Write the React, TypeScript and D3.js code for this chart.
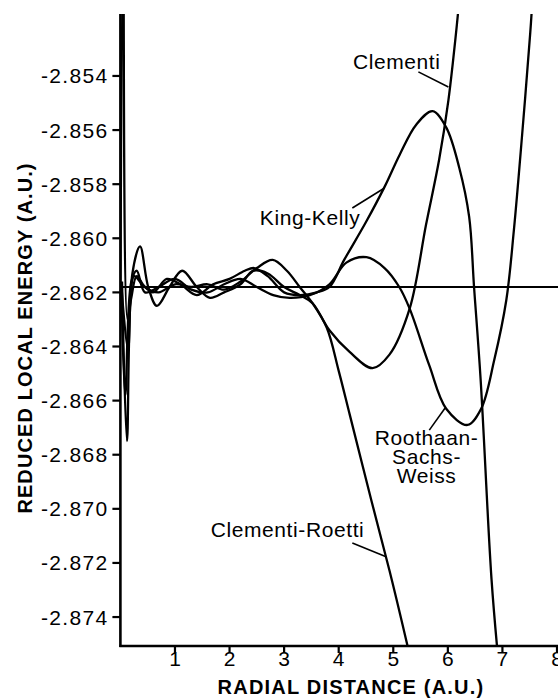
import React from "react";
import * as d3 from "d3";

// ---- data (radial distance r in a.u., reduced local energy E in a.u.) ----
const xTicks = [1, 2, 3, 4, 5, 6, 7, 8];
const yTicks = [-2.854, -2.856, -2.858, -2.86, -2.862, -2.864, -2.866, -2.868, -2.87, -2.872, -2.874];
const referenceEnergy = -2.8618;

const clementi: [number, number][] = [
  [0.03, -2.8616], [0.12, -2.8675], [0.22, -2.8613], [0.36, -2.8603], [0.51, -2.8618], [0.67, -2.8625],
  [0.9, -2.8618], [1.13, -2.8612], [1.4, -2.8618], [1.64, -2.8622], [1.9, -2.862], [2.2, -2.8617],
  [2.43, -2.8612], [2.7, -2.8613], [3.0, -2.8618], [3.285, -2.8621], [3.52, -2.8624], [3.83, -2.8634],
  [4.2, -2.8642], [4.62, -2.8648], [4.93, -2.8643], [5.3, -2.8626], [5.6, -2.8595], [5.84, -2.8571],
  [6.01, -2.8549], [6.14, -2.8526], [6.2, -2.8514],
];

const clementiRoetti: [number, number][] = [
  [0.0, -2.8622], [0.05, -2.849], [0.13, -2.863], [0.2, -2.8622], [0.3, -2.8614], [0.45, -2.8618],
  [0.7, -2.862], [1.0, -2.8617], [1.3, -2.8618], [1.6, -2.8617], [1.9, -2.8619], [2.2, -2.8616],
  [2.5, -2.8611], [2.79, -2.8608], [3.05, -2.8612], [3.285, -2.8618], [3.52, -2.8624], [3.78, -2.8633],
  [4.0, -2.8649], [4.2, -2.8665], [4.6, -2.8697], [4.97, -2.8726], [5.3, -2.8754],
];

const kingKelly: [number, number][] = [
  [0.02, -2.8618], [0.14, -2.8641], [0.25, -2.8614], [0.4, -2.8617], [0.6, -2.862], [0.85, -2.8615],
  [1.1, -2.8617], [1.4, -2.8621], [1.7, -2.8617], [2.0, -2.8615], [2.28, -2.8612], [2.45, -2.8611],
  [2.7, -2.8614], [3.0, -2.862], [3.3, -2.8621], [3.6, -2.862], [3.83, -2.8618], [4.1, -2.8608],
  [4.5, -2.8594], [4.84, -2.8581], [5.12, -2.8569], [5.42, -2.8558], [5.72, -2.8553], [5.97, -2.8559],
  [6.21, -2.8574], [6.39, -2.8592], [6.48, -2.8618], [6.6, -2.8652], [6.8, -2.8726], [6.92, -2.8755],
];

const roothaanSachsWeiss: [number, number][] = [
  [0.02, -2.862], [0.09, -2.8658], [0.2, -2.8616], [0.3, -2.8612], [0.45, -2.862], [0.7, -2.8618],
  [1.0, -2.8615], [1.3, -2.8619], [1.6, -2.862], [1.9, -2.8617], [2.2, -2.8615], [2.5, -2.8618],
  [2.8, -2.8621], [3.1, -2.8622], [3.47, -2.8621], [3.83, -2.8617], [4.14, -2.8609], [4.51, -2.8607],
  [4.84, -2.8611], [5.11, -2.8618], [5.3, -2.8626], [5.66, -2.8647], [5.97, -2.8663], [6.36, -2.8669],
  [6.61, -2.8663], [6.85, -2.8645], [7.07, -2.8623], [7.21, -2.8597], [7.36, -2.8562], [7.51, -2.8524],
  [7.55, -2.8512],
];

const seriesList = [clementi, clementiRoetti, kingKelly, roothaanSachsWeiss];

// curve labels: text lines, anchor position (data units) and leader line (data units)
const labelTexts = [["Clementi"], ["King-Kelly"], ["Roothaan-", "Sachs-", "Weiss"], ["Clementi-Roetti"]];
const labelAnchors: [number, number][] = [[4.26, -2.85374], [2.555, -2.85951], [5.61, -2.86764], [4.47, -2.87104]];
const labelAligns = ["start", "start", "middle", "end"];
const leaderLines: [number, number, number, number][] = [
  [5.46, -2.85385, 6.01, -2.85441],
  [4.25, -2.85888, 4.84, -2.85814],
  [5.66, -2.86709, 5.95, -2.86627],
  [4.25, -2.87126, 4.88, -2.87178],
];

const W = 558;
const H = 698;
const left = 120.4;
const right = 558;
const top = 14;
const bottom = 646;

export default function App() {
  const x = d3.scaleLinear().domain([0, 8]).range([left, 557]);
  const y = d3.scaleLinear().domain([-2.87507, -2.85171]).range([bottom, top]);
  const line = d3
    .line<[number, number]>()
    .x((d) => x(d[0]))
    .y((d) => y(d[1]))
    .curve(d3.curveCatmullRom.alpha(0.5));

  const font = "'Liberation Sans', Arial, Helvetica, sans-serif";

  return (
    <svg
      width={W}
      height={H}
      style={{ position: "absolute", left: 0, top: 0, background: "#fff" }}
      fontFamily={font}
    >
      <defs>
        <clipPath id="plot">
          <rect x={left} y={top} width={right - left} height={bottom - top} />
        </clipPath>
      </defs>
      <rect x={0} y={0} width={W} height={H} fill="#fff" />

      {/* reference line */}
      <line
        x1={x(0)}
        x2={right}
        y1={y(referenceEnergy)}
        y2={y(referenceEnergy)}
        stroke="#000"
        strokeWidth={2.2}
      />

      {/* curves */}
      <g clipPath="url(#plot)">
        {seriesList.map((s, i) => (
          <path key={i} d={line(s) || ""} fill="none" stroke="#000" strokeWidth={2.3} strokeLinejoin="round" />
        ))}
      </g>

      {/* axes */}
      <line x1={left} x2={left} y1={top} y2={bottom + 1} stroke="#000" strokeWidth={2.6} />
      <line x1={left - 1} x2={right} y1={bottom} y2={bottom} stroke="#000" strokeWidth={2.6} />

      {yTicks.map((t) => (
        <g key={t}>
          <line x1={left - 8} x2={left} y1={y(t)} y2={y(t)} stroke="#000" strokeWidth={2.2} />
          <text
            x={left - 12}
            y={y(t)}
            textAnchor="end"
            dominantBaseline="central"
            fontSize={21}
            letterSpacing={1.3}
          >
            {t.toFixed(3)}
          </text>
        </g>
      ))}

      {xTicks.map((t) => (
        <g key={t}>
          <line x1={x(t)} x2={x(t)} y1={bottom} y2={bottom + 7} stroke="#000" strokeWidth={2.2} />
          <text x={x(t)} y={bottom + 20} textAnchor="middle" fontSize={21}>
            {t}
          </text>
        </g>
      ))}

      {/* axis titles */}
      <text
        x={(215 + 487) / 2}
        y={694}
        textAnchor="middle"
        fontSize={20}
        fontWeight="bold"
        letterSpacing={1.2}
      >
        RADIAL DISTANCE (A.U.)
      </text>
      <text
        transform="translate(32,338) rotate(-90)"
        textAnchor="middle"
        fontSize={20}
        fontWeight="bold"
        letterSpacing={1.1}
      >
        REDUCED LOCAL ENERGY (A.U.)
      </text>

      {/* curve labels */}
      {labelTexts.map((lines, i) => (
        <text
          key={i}
          x={x(labelAnchors[i][0])}
          y={y(labelAnchors[i][1])}
          textAnchor={labelAligns[i] as any}
          fontSize={21}
          letterSpacing={0.6}
        >
          {lines.map((ln, j) => (
            <tspan key={j} x={x(labelAnchors[i][0])} dy={j === 0 ? 0 : 19}>
              {ln}
            </tspan>
          ))}
        </text>
      ))}
      {leaderLines.map((l, i) => (
        <line
          key={i}
          x1={x(l[0])}
          y1={y(l[1])}
          x2={x(l[2])}
          y2={y(l[3])}
          stroke="#000"
          strokeWidth={1.6}
        />
      ))}
    </svg>
  );
}
